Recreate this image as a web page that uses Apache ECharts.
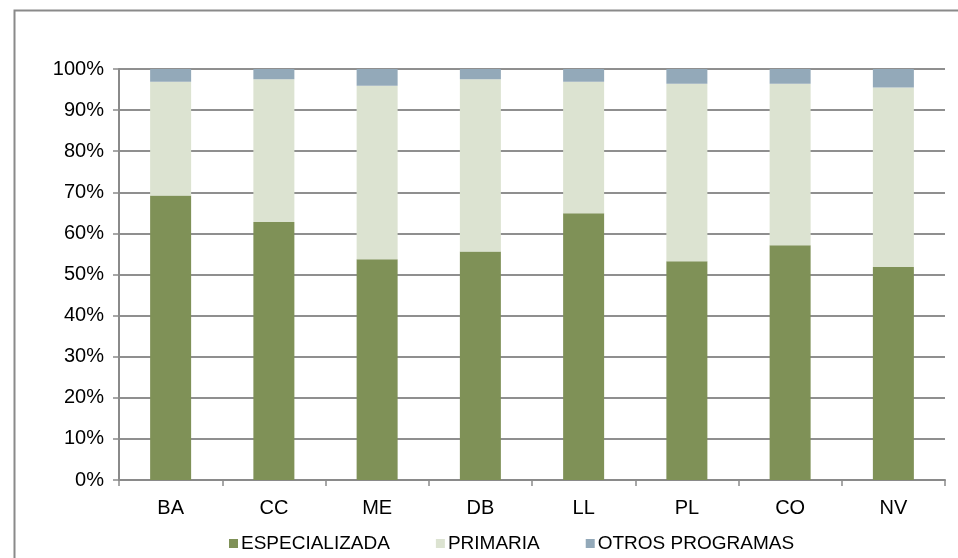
<!DOCTYPE html>
<html>
<head>
<meta charset="utf-8">
<script src="https://cdn.jsdelivr.net/npm/echarts@6/dist/echarts.min.js"></script>
<style>html,body{margin:0;padding:0;background:#fff;}#c{width:958px;height:558px;}</style>
</head>
<body>
<div id="c"></div>
<script>
const categories = ['BA','CC','ME','DB','LL','PL','CO','NV'];
const especializada = [69.2, 62.8, 53.7, 55.6, 64.9, 53.2, 57.1, 51.8];
const primaria = [27.7, 34.7, 42.2, 41.9, 32.0, 43.2, 39.3, 43.7];
const otros = [3.1, 2.5, 4.1, 2.5, 3.1, 3.6, 3.6, 4.5];
const seriesNames = ['ESPECIALIZADA','PRIMARIA','OTROS PROGRAMAS'];

const chart = echarts.init(document.getElementById('c'));
const font = 'Liberation Sans, Arial, sans-serif';
const mk = (name, data, color) => ({
  name, type: 'bar', stack: 'total', data, barWidth: 41,
  itemStyle: { color }, emphasis: { disabled: true }
});
chart.setOption({
  animation: false,
  backgroundColor: '#fff',
  graphic: [{
    type: 'rect', left: 12, top: 8, silent: true,
    shape: { x: 0, y: 0, width: 960, height: 570 },
    style: { fill: 'none', stroke: '#8a8a8a', lineWidth: 2 }
  }],
  grid: { left: 119, right: 13, top: 69, bottom: 78 },
  legend: {
    left: 224, top: 529, itemWidth: 9, itemHeight: 9, itemGap: 46,
    icon: 'rect',
    textStyle: { fontFamily: font, fontSize: 19, color: '#000', padding: [0,0,0,-2] },
    data: seriesNames
  },
  xAxis: {
    type: 'category', data: categories,
    axisLine: { lineStyle: { color: '#8a8a8a', width: 2 } },
    axisTick: { show: true, length: 6, lineStyle: { color: '#8a8a8a', width: 1.5 } },
    axisLabel: { fontFamily: font, fontSize: 20, color: '#000', margin: 18 }
  },
  yAxis: {
    type: 'value', min: 0, max: 100, interval: 10,
    axisLine: { show: true, lineStyle: { color: '#8a8a8a', width: 2 } },
    axisTick: { show: true, length: 6, lineStyle: { color: '#8a8a8a', width: 1.5 } },
    axisLabel: { fontFamily: font, fontSize: 20, color: '#000', margin: 15, formatter: '{value}%' },
    splitLine: { lineStyle: { color: '#8f8f8f', width: 2 } }
  },
  series: [
    mk(seriesNames[0], especializada, '#7F9157'),
    mk(seriesNames[1], primaria, '#DCE3D1'),
    mk(seriesNames[2], otros, '#93A9B9')
  ]
});
</script>
</body>
</html>
